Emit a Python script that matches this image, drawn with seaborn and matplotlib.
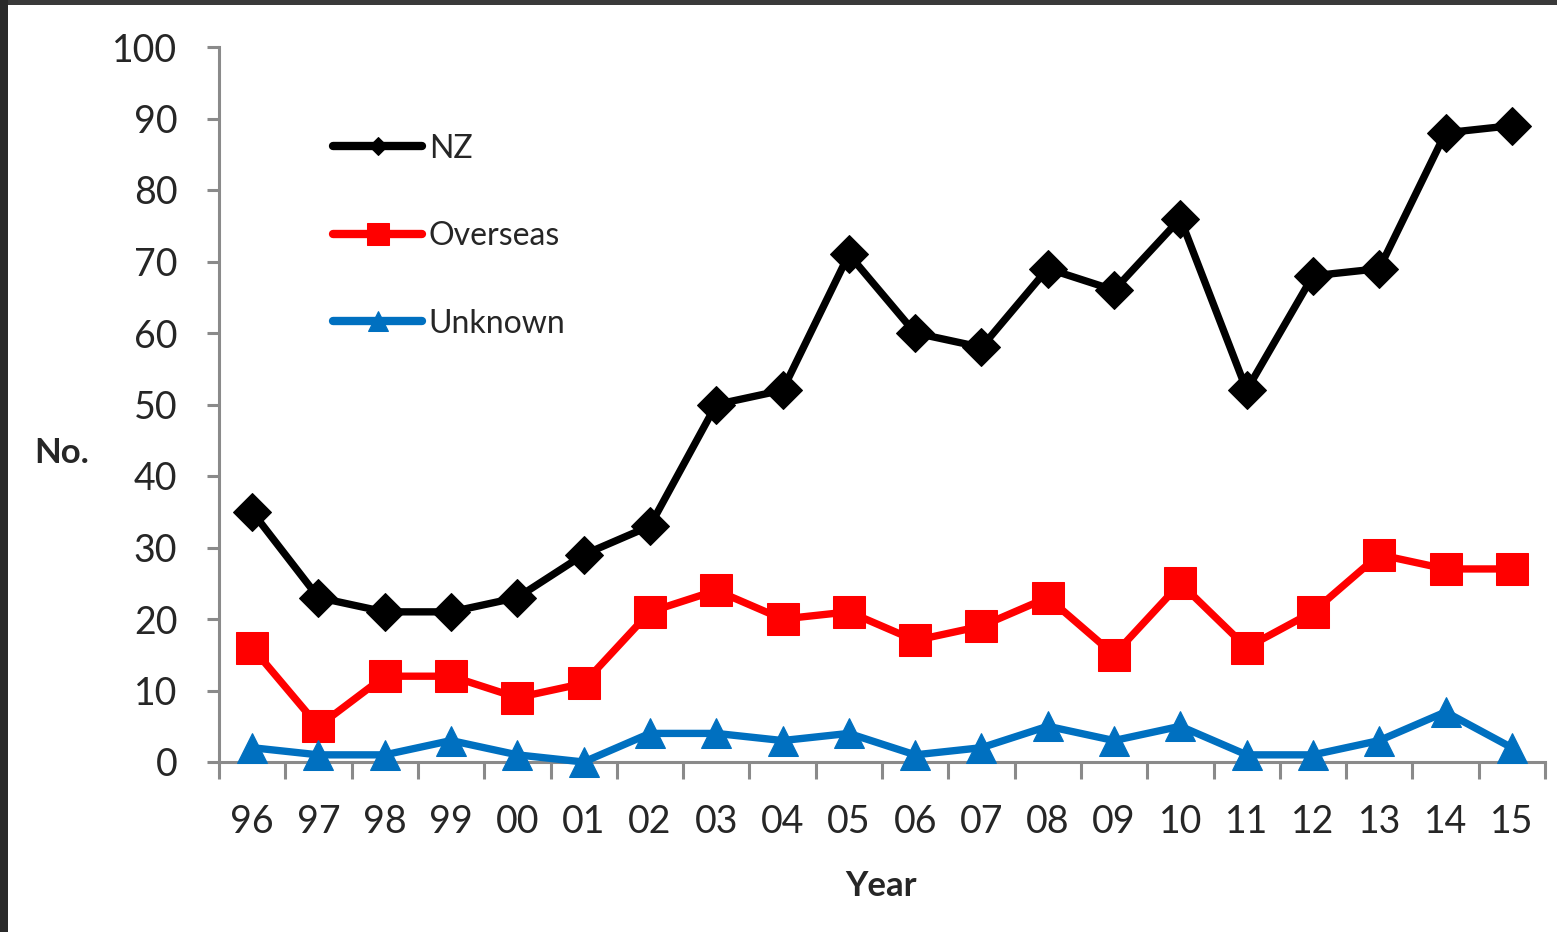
import matplotlib
matplotlib.use("Agg")
import matplotlib.pyplot as plt
from matplotlib.patches import Rectangle
from matplotlib.ticker import FixedLocator, MultipleLocator
import seaborn as sns
import pandas as pd

# values
years = list(range(1996, 2016))
nz = [35, 23, 21, 21, 23, 29, 33, 50, 52, 71, 60, 58, 69, 66, 76, 52, 68, 69, 88, 89]
overseas = [16, 5, 12, 12, 9, 11, 21, 24, 20, 21, 17, 19, 23, 15, 25, 16, 21, 29, 27, 27]
unknown = [2, 1, 1, 3, 1, 0, 4, 4, 3, 4, 1, 2, 5, 3, 5, 1, 1, 3, 7, 2]
year_labels = ["%02d" % (y % 100) for y in years]

series = ["NZ", "Overseas", "Unknown"]
colours = {"NZ": "#000000", "Overseas": "#FF0000", "Unknown": "#0070C0"}
markers = {"NZ": "D", "Overseas": "s", "Unknown": "^"}
msize = {"NZ": 19, "Overseas": 23, "Unknown": 22}

df = pd.DataFrame({"Year": years * 3,
                   "No.": nz + overseas + unknown,
                   "Origin": ["NZ"] * 20 + ["Overseas"] * 20 + ["Unknown"] * 20})

sns.set_style("white")
plt.rcParams["font.family"] = ["Lato", "DejaVu Sans"]

fig = plt.figure(figsize=(15.57, 9.32), dpi=100)
fig.patch.set_facecolor("white")
# dark frame of the screenshot
fig.add_artist(Rectangle((0, 1 - 5 / 932), 1, 5 / 932, transform=fig.transFigure,
                         color="#3a3a3a", lw=0))
fig.add_artist(Rectangle((0, 0), 8 / 1557, 1, transform=fig.transFigure,
                         color="#2a2a2a", lw=0))

ax = fig.add_axes([219 / 1557, 1 - 762 / 932, 1326 / 1557, 715 / 932])

for s in series:
    sns.lineplot(data=df[df["Origin"] == s], x="Year", y="No.", color=colours[s],
                 marker=markers[s], markersize=msize[s], markeredgecolor=colours[s],
                 linewidth=5.3, label=s, ax=ax, clip_on=False, zorder=3)

ax.set_xlim(1995.5, 2015.5)
ax.set_ylim(0, 100)
ax.yaxis.set_major_locator(MultipleLocator(10))
ax.xaxis.set_major_locator(FixedLocator(years))
ax.set_xticklabels(year_labels)
ax.xaxis.set_minor_locator(FixedLocator([y + 0.5 for y in [1995] + years]))

for side in ["top", "right"]:
    ax.spines[side].set_visible(False)
for side in ["left", "bottom"]:
    ax.spines[side].set_color("#8a8a8a")
    ax.spines[side].set_linewidth(2.2)
    ax.spines[side].set_zorder(2)

ax.tick_params(axis="x", which="major", length=0, pad=30, labelsize=27)
ax.tick_params(axis="x", which="minor", length=12, width=2.2, color="#8a8a8a",
               direction="out", bottom=True)
ax.tick_params(axis="y", which="major", length=9, width=2.2, color="#8a8a8a",
               direction="out", left=True, pad=21, labelsize=27)

ax.set_ylabel("No.", rotation=0, fontsize=25, fontweight="bold", ha="center", va="center")
ax.yaxis.set_label_coords(-0.119, 0.432)
ax.set_xlabel("Year", fontsize=25, fontweight="bold", ha="center", va="center")
ax.xaxis.set_label_coords(0.499, -0.173)

leg = ax.legend(loc="upper left", bbox_to_anchor=(0.086, 0.879), frameon=False,
                fontsize=23, handlelength=2.8, handletextpad=0.2, labelspacing=1.8,
                borderpad=0, borderaxespad=0)
for h, sz in zip(leg.legend_handles, [9, 16, 15]):
    h.set_markersize(sz)
    h.set_linewidth(6)

fig.savefig("out.png", dpi=100, facecolor=fig.get_facecolor())
